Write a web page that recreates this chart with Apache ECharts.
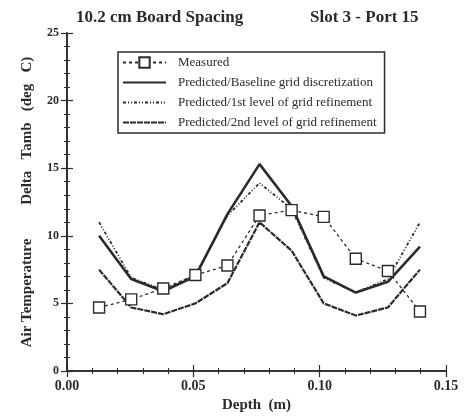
<!DOCTYPE html>
<html>
<head>
<meta charset="utf-8">
<script src="https://cdn.jsdelivr.net/npm/echarts@6/dist/echarts.min.js"></script>
<style>
  html, body { margin: 0; padding: 0; background: #fff; }
  #chart { width: 465px; height: 419px; }
</style>
</head>
<body>
<div id="chart"></div>
<script>
// Probe positions across the board gap (m), half-inch steps
const depth = [0.0127, 0.0254, 0.0381, 0.0508, 0.0635, 0.0762, 0.0889, 0.1016, 0.1143, 0.1270, 0.1397];

// Air temperature rise above ambient (deg C)
const measured = [4.7, 5.3, 6.1, 7.1, 7.8, 11.5, 11.9, 11.4, 8.3, 7.4, 4.4];
const baseline = [10.0, 6.8, 5.9, 7.0, 11.6, 15.3, 12.2, 7.0, 5.8, 6.6, 9.2];
const refine1 = [11.0, 6.9, 6.0, 7.1, 11.5, 13.9, 12.0, 6.9, 5.8, 6.8, 11.0];
const refine2 = [7.5, 4.7, 4.2, 5.0, 6.5, 11.0, 8.9, 5.0, 4.1, 4.7, 7.5];

const seriesNames = [
  'Measured',
  'Predicted/Baseline grid discretization',
  'Predicted/1st level of grid refinement',
  'Predicted/2nd level of grid refinement'
];

const xTicks = [0, 0.05, 0.10, 0.15];
const yTicks = [0, 5, 10, 15, 20, 25];

const pairs = ys => depth.map((x, i) => [x, ys[i]]);

const serif = '"Liberation Serif", "DejaVu Serif", serif';
const ink = '#2b2b2b';

// wide word spacing used in the vertical axis title
const EM = '\u2003', EN = '\u2002';
const yName = 'Air Temperature' + EM + EM + ' ' + 'Delta' + EN + ' Tamb' + EN + ' (deg' + EN + ' C)';

function axisBase(extra) {
  return Object.assign({
    axisLine: { show: true, lineStyle: { color: ink, width: 1.6 } },
    axisTick: { show: true, inside: true, length: 6, lineStyle: { color: ink, width: 1.2 } },
    minorTick: { show: true, splitNumber: 5, length: 3, lineStyle: { color: ink, width: 1 } },
    splitLine: { show: false }
  }, extra);
}

// legend entries: the plain lines keep only their line sample
const legendData = seriesNames.map((n, i) => i === 0
  ? { name: n }
  : { name: n, itemStyle: { opacity: 0 } });

const chart = echarts.init(document.getElementById('chart'), null, { renderer: 'canvas' });

chart.setOption({
  animation: false,
  backgroundColor: '#fff',
  textStyle: { fontFamily: serif, color: ink },
  title: [
    { text: '10.2 cm Board Spacing', left: 71, top: 4,
      textStyle: { fontFamily: serif, fontWeight: 'bold', fontSize: 17, color: ink } },
    { text: 'Slot 3 - Port 15', left: 305, top: 4,
      textStyle: { fontFamily: serif, fontWeight: 'bold', fontSize: 17, color: ink } }
  ],
  grid: { left: 67, right: 19, top: 33, bottom: 48 },
  legend: {
    data: legendData,
    orient: 'vertical',
    left: 118,
    top: 52,
    itemWidth: 43,
    itemHeight: 13,
    itemGap: 7,
    padding: [4, 8, 4, 4],
    borderColor: ink,
    borderWidth: 1.5,
    backgroundColor: '#fff',
    textStyle: { fontFamily: serif, fontSize: 13, color: ink, padding: [0, 0, 0, 7] }
  },
  xAxis: [
    axisBase({
      type: 'value', min: xTicks[0], max: xTicks[xTicks.length - 1], interval: 0.05,
      name: 'Depth  (m)', nameLocation: 'middle', nameGap: 27,
      nameTextStyle: { fontFamily: serif, fontWeight: 'bold', fontSize: 15, color: ink },
      axisLabel: { fontFamily: serif, fontWeight: 'bold', fontSize: 14, color: ink, margin: 8,
        formatter: v => v.toFixed(2) }
    }),
    axisBase({
      type: 'value', position: 'top', min: xTicks[0], max: xTicks[xTicks.length - 1], interval: 0.05,
      axisLabel: { show: false }
    })
  ],
  yAxis: [
    axisBase({
      type: 'value', min: yTicks[0], max: yTicks[yTicks.length - 1], interval: 5,
      name: yName, nameLocation: 'middle', nameGap: 32,
      nameTextStyle: { fontFamily: serif, fontWeight: 'bold', fontSize: 15, color: ink },
      axisLabel: { fontFamily: serif, fontWeight: 'bold', fontSize: 12, color: ink, margin: 8 }
    }),
    axisBase({
      type: 'value', position: 'right', min: yTicks[0], max: yTicks[yTicks.length - 1], interval: 5,
      axisLabel: { show: false }
    })
  ],
  series: [
    {
      name: seriesNames[0], type: 'line', data: pairs(measured),
      symbol: 'rect', symbolSize: 11,
      itemStyle: { color: '#fff', borderColor: ink, borderWidth: 1.4 },
      lineStyle: { color: ink, width: 1.3, type: [3, 3] },
      z: 5
    },
    {
      name: seriesNames[1], type: 'line', data: pairs(baseline),
      symbol: 'none', itemStyle: { color: ink },
      lineStyle: { color: ink, width: 2.6, type: 'solid' }
    },
    {
      name: seriesNames[2], type: 'line', data: pairs(refine1),
      symbol: 'none', itemStyle: { color: ink },
      lineStyle: { color: ink, width: 1.8, type: [3, 2, 1, 2, 1, 2] }
    },
    {
      name: seriesNames[3], type: 'line', data: pairs(refine2),
      symbol: 'none', itemStyle: { color: ink },
      lineStyle: { color: ink, width: 2.2, type: [6, 1] }
    }
  ]
});
</script>
</body>
</html>
